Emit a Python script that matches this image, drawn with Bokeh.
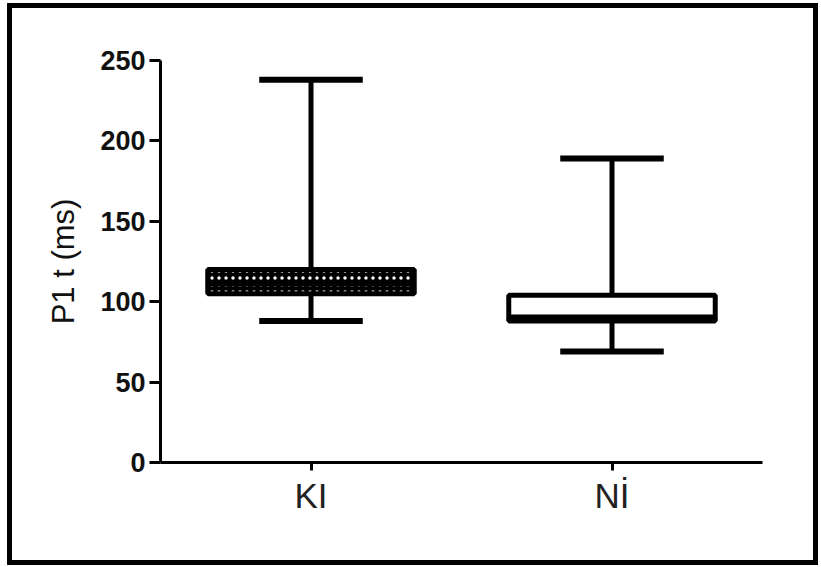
from bokeh.plotting import figure
from bokeh.models import FactorRange, Range1d, FixedTicker, ColumnDataSource
from bokeh.transform import dodge
from bokeh.embed import file_html
from bokeh.resources import INLINE

# ---- data ----
categories = ["KI", "Nİ"]
lower_whisker = [88, 69]
q1 = [105, 88]
median = [111, 90.5]
q3 = [120, 104]
upper_whisker = [238, 189]
y_ticks = [0, 50, 100, 150, 200, 250]

# ---- styles ----
box_fill = ["black", "white"]
box_hatch = ["dot", " "]

src = ColumnDataSource(dict(
    cat=categories, lo=lower_whisker, q1=q1, med=median, q3=q3, hi=upper_whisker,
    fill=box_fill, hatch=box_hatch,
))

p = figure(
    x_range=FactorRange(*categories, range_padding=0),
    y_range=Range1d(0, 250),
    frame_width=602, frame_height=402,
    min_border_left=148, min_border_right=51, min_border_top=52, min_border_bottom=98,
    output_backend="svg", toolbar_location=None,
)
p.styles = {"margin-left": "7px", "margin-top": "3px", "border": "5px solid black"}
p.outline_line_color = None
p.xgrid.visible = False
p.ygrid.visible = False
p.background_fill_color = "white"
p.border_fill_color = "white"

# whiskers
p.segment(x0="cat", x1="cat", y0="q3", y1="hi", source=src, line_color="black", line_width=5)
p.segment(x0="cat", x1="cat", y0="lo", y1="q1", source=src, line_color="black", line_width=5)
cap = 0.172
p.segment(x0=dodge("cat", -cap, range=p.x_range), x1=dodge("cat", cap, range=p.x_range),
          y0="hi", y1="hi", source=src, line_color="black", line_width=6)
p.segment(x0=dodge("cat", -cap, range=p.x_range), x1=dodge("cat", cap, range=p.x_range),
          y0="lo", y1="lo", source=src, line_color="black", line_width=6)

# boxes
bw = 0.686
p.vbar(x="cat", width=bw, bottom="q1", top="q3", source=src,
       fill_color="fill", line_color="black", line_width=5,
       hatch_pattern="hatch", hatch_color="white", hatch_scale=7, hatch_weight=1.5)
p.segment(x0=dodge("cat", -bw / 2, range=p.x_range), x1=dodge("cat", bw / 2, range=p.x_range),
          y0="med", y1="med", source=src, line_color="black", line_width=5)

# axes
ya = p.yaxis[0]
ya.ticker = FixedTicker(ticks=y_ticks)
ya.minor_tick_line_color = None
ya.major_tick_in = 0
ya.major_tick_out = 11
ya.major_tick_line_width = 3
ya.axis_line_width = 3
ya.major_label_text_font = "Liberation Sans"
ya.major_label_text_font_style = "bold"
ya.major_label_text_font_size = "27px"
ya.major_label_text_color = "#111111"
ya.major_label_standoff = 4
ya.axis_label = "P1 t (ms)"
ya.axis_label_text_font = "Liberation Sans"
ya.axis_label_text_font_style = "normal"
ya.axis_label_text_font_size = "31px"
ya.axis_label_text_color = "#111111"
ya.axis_label_standoff = 16

xa = p.xaxis[0]
xa.major_tick_in = 0
xa.major_tick_out = 8
xa.major_tick_line_width = 3
xa.axis_line_width = 3
xa.major_label_text_font = "Liberation Sans"
xa.major_label_text_font_style = "normal"
xa.major_label_text_font_size = "35px"
xa.major_label_text_color = "#222222"
xa.major_label_standoff = 5

open("out.html", "w").write(file_html(p, INLINE))
